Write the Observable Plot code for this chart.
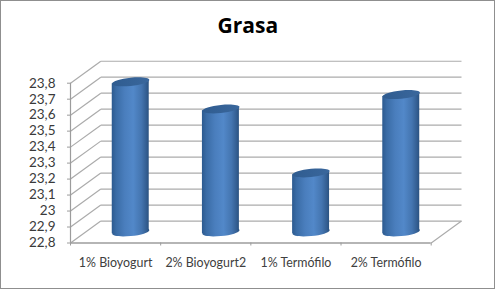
<!DOCTYPE html>
<html><head><meta charset="utf-8">
<style>
html,body{margin:0;padding:0;background:#fff}
svg{display:block;outline:1.5px solid #8f8f8f;outline-offset:-1.5px}
</style>
<script src="https://cdn.jsdelivr.net/npm/d3@7"></script>
<script src="https://cdn.jsdelivr.net/npm/@observablehq/plot@0.6"></script>
</head><body>
<script>
const title = "Grasa";
const categories = ["1% Bioyogurt", "2% Bioyogurt2", "1% Termófilo", "2% Termófilo"];
const values = [23.74, 23.57, 23.17, 23.66];
const yTicks = [22.8, 22.9, 23, 23.1, 23.2, 23.3, 23.4, 23.5, 23.6, 23.7, 23.8];
const xEdges = [0, 1, 2, 3, 4];
const base = 22.8;
// pseudo-3D depth, expressed in data units of each scale
const depthX = 0.336, depthY = 0.1375;
const halfW = 0.205;
const skew = 0.1;   // tilt of the cylinder caps
const capRatio = 0.22;

const bars = categories.map((c, i) => ({c, v: values[i], i, cx: i + 0.5 + depthX / 2}));

// tilted ellipse as a custom symbol
const K = 0.5523;
const capSymbol = {draw(ctx, size) {
  const rx = Math.sqrt(size / Math.PI), ry = rx * capRatio;
  const P = (u, v) => { const x = u * rx; return [x, v * ry - x * skew]; };
  ctx.moveTo(...P(1, 0));
  ctx.bezierCurveTo(...P(1, K), ...P(K, 1), ...P(0, 1));
  ctx.bezierCurveTo(...P(-K, 1), ...P(-1, K), ...P(-1, 0));
  ctx.bezierCurveTo(...P(-1, -K), ...P(-K, -1), ...P(0, -1));
  ctx.bezierCurveTo(...P(K, -1), ...P(1, -K), ...P(1, 0));
  ctx.closePath();
}};

function defs() {
  const s = d3.create("svg:defs");
  const g = s.append("linearGradient").attr("id", "cyl").attr("x1", 0).attr("x2", 1).attr("y1", 0).attr("y2", 0);
  [[0, "#2c5a8f"], [0.12, "#3a6ca6"], [0.35, "#4a7ebd"], [0.58, "#5288c9"], [0.8, "#4475b0"], [0.93, "#345f93"], [1, "#2a5280"]]
    .forEach(([o, c]) => g.append("stop").attr("offset", o).attr("stop-color", c));
  const t = s.append("linearGradient").attr("id", "cap").attr("x1", 0).attr("x2", 1).attr("y1", 0).attr("y2", 0);
  [[0, "#2f5c90"], [1, "#3a679c"]].forEach(([o, c]) => t.append("stop").attr("offset", o).attr("stop-color", c));
  return s.node();
}

const gridColor = "#ababab", axisColor = "#9c9c9c", font = "Lato";

const chart = Plot.plot({
  width: 495, height: 289,
  marginLeft: 70, marginRight: 64.3, marginTop: 82.7, marginBottom: 46.5,
  style: {background: "#fff", fontFamily: font, overflow: "visible"},
  x: {domain: [0, 4], axis: null},
  y: {domain: [base, 23.8], axis: null},
  marks: [
    defs,
    // back wall
    Plot.link(yTicks, {x1: depthX, x2: 4 + depthX, y1: v => v + depthY, y2: v => v + depthY, stroke: gridColor, strokeWidth: 1.2}),
    // side wall
    Plot.link(yTicks, {x1: 0, x2: depthX, y1: v => v, y2: v => v + depthY, stroke: gridColor, strokeWidth: 1.2}),
    // floor edges
    Plot.link([base], {x1: 4, x2: 4 + depthX, y1: v => v, y2: v => v + depthY, stroke: gridColor, strokeWidth: 1.2}),
    Plot.ruleY([base], {stroke: axisColor, strokeWidth: 1.4}),
    Plot.ruleX([0], {y1: base, y2: 23.8, stroke: axisColor, strokeWidth: 1.2}),
    // axes
    Plot.axisY({ticks: yTicks, tickSize: 3, tickPadding: 12, stroke: axisColor, fill: "#3a3a3a", label: null, fontSize: 13.5,
      tickFormat: v => String(+v.toFixed(1)).replace(".", ",")}),
    Plot.axisX({ticks: xEdges, tickSize: 3, tickFormat: () => "", stroke: axisColor, label: null}),
    Plot.axisX({ticks: xEdges.slice(0, 4).map(i => i + 0.5), tickSize: 0, tickPadding: 15, fill: "#404040", label: null, fontSize: 12.4,
      tickFormat: v => categories[v - 0.5]}),
    // cylinders: bottom cap, body, top cap
    Plot.dot(bars, {x: "cx", y: () => base + depthY / 2, r: 18.6, symbol: capSymbol, fill: "url(#cyl)", stroke: "none"}),
    Plot.rect(bars, {
      x1: d => d.cx - halfW, x2: d => d.cx + halfW,
      y1: () => base + depthY / 2, y2: d => d.v + depthY / 2,
      fill: "url(#cyl)",
      render(index, scales, values, dims, ctx, next) {
        const g = next(index, scales, values, dims, ctx);
        d3.select(g).selectAll("rect").attr("transform", function () {
          const cx = +this.getAttribute("x") + +this.getAttribute("width") / 2;
          return `translate(${cx},0) matrix(1,${-skew},0,1,0,0) translate(${-cx},0)`;
        });
        return g;
      }
    }),
    Plot.dot(bars, {x: "cx", y: d => d.v + depthY / 2, r: 18.6, symbol: capSymbol, fill: "url(#cap)", stroke: "none"}),
    // title
    Plot.text([title], {frameAnchor: "top", dx: -3, dy: -65, fontSize: 21, fontWeight: 700, fill: "#000", fontFamily: "Open Sans"})
  ]
});
document.body.appendChild(chart);
</script>
</body></html>
